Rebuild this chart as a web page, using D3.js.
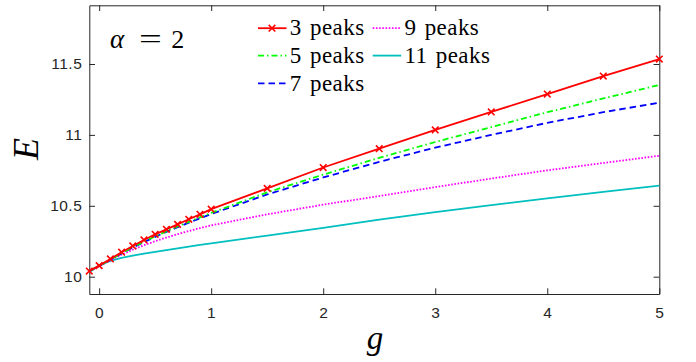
<!DOCTYPE html>
<html>
<head>
<meta charset="utf-8">
<script src="https://cdn.jsdelivr.net/npm/d3@7/dist/d3.min.js"></script>
<style>
  html, body { margin: 0; padding: 0; background: #fff; }
  svg { display: block; }
</style>
</head>
<body>
<svg id="chart" width="696" height="362"></svg>
<script>
// ---- data ----
const g = [-0.088, 0, 0.1, 0.2, 0.3, 0.4, 0.5, 0.6, 0.7, 0.8, 0.9, 1.0,
           1.5, 2.0, 2.5, 3.0, 3.5, 4.0, 4.5, 5.0];
const peaks3  = [10.040, 10.078, 10.125, 10.173, 10.217, 10.259, 10.299, 10.334, 10.369, 10.405, 10.440, 10.476,
                 10.623, 10.770, 10.903, 11.035, 11.162, 11.288, 11.415, 11.535];
const peaks5  = [10.040, 10.076, 10.120, 10.165, 10.207, 10.247, 10.285, 10.320, 10.354, 10.387, 10.418, 10.450,
                 10.595, 10.720, 10.838, 10.950, 11.055, 11.160, 11.257, 11.352];
const peaks7  = [10.040, 10.076, 10.120, 10.164, 10.205, 10.244, 10.281, 10.316, 10.349, 10.381, 10.412, 10.442,
                 10.580, 10.700, 10.810, 10.910, 11.000, 11.085, 11.160, 11.227];
const peaks9  = [10.036, 10.075, 10.115, 10.155, 10.190, 10.222, 10.250, 10.276, 10.300, 10.322, 10.343, 10.362,
                 10.440, 10.508, 10.569, 10.632, 10.692, 10.750, 10.802, 10.853];
const peaks11 = [10.032, 10.080, 10.112, 10.132, 10.148, 10.162, 10.175, 10.188, 10.200, 10.212, 10.224, 10.235,
                 10.290, 10.345, 10.403, 10.456, 10.505, 10.553, 10.598, 10.642];
const seriesNames = ["3 peaks", "5 peaks", "7 peaks", "9 peaks", "11 peaks"];
const xTicks = [0, 1, 2, 3, 4, 5];
const yTicks = [10, 10.5, 11, 11.5];
const yTickLabels = ["10", "10.5", "11", "11.5"];

// ---- layout ----
const svg = d3.select("#chart");
const L = 89.3, R = 659.3, T = 5.3, B = 294;
const x = d3.scaleLinear().domain([-0.088, 5]).range([L, R]);
const y = d3.scaleLinear().domain([9.878, 11.914]).range([B, T]);

const axisColor = "#262626";
const SERIF = "Liberation Serif";

function styleAxis(sel) {
  sel.attr("font-family", "Liberation Sans").attr("font-size", 15.5);
  sel.selectAll("path.domain").attr("stroke", axisColor).attr("stroke-width", 1);
  sel.selectAll(".tick line").attr("stroke", axisColor).attr("stroke-width", 1);
  sel.selectAll(".tick text").attr("fill", axisColor).attr("letter-spacing", 0.5);
}

svg.append("g").attr("transform", `translate(0,${B})`)
  .call(d3.axisBottom(x).tickValues(xTicks).tickFormat(d3.format("d"))
        .tickSizeInner(-5.7).tickSizeOuter(0).tickPadding(12.5))
  .call(styleAxis);
svg.append("g").attr("transform", `translate(0,${T})`)
  .call(d3.axisTop(x).tickValues(xTicks).tickFormat("")
        .tickSizeInner(-5.7).tickSizeOuter(0))
  .call(styleAxis);
svg.append("g").attr("transform", `translate(${L},0)`)
  .call(d3.axisLeft(y).tickValues(yTicks).tickFormat((d, i) => yTickLabels[i])
        .tickSizeInner(-5.7).tickSizeOuter(0).tickPadding(7))
  .call(styleAxis);
svg.append("g").attr("transform", `translate(${R},0)`)
  .call(d3.axisRight(y).tickValues(yTicks).tickFormat("")
        .tickSizeInner(-5.7).tickSizeOuter(0))
  .call(styleAxis);

// ---- lines ----
const series = [
  { name: seriesNames[0], vals: peaks3,  color: "#ff0000", dash: null,        width: 1.8, marker: true },
  { name: seriesNames[1], vals: peaks5,  color: "#00ff00", dash: "6,3,1.5,3", width: 1.8 },
  { name: seriesNames[2], vals: peaks7,  color: "#0000ff", dash: "6.5,4",     width: 1.8 },
  { name: seriesNames[3], vals: peaks9,  color: "#ff00ff", dash: "1.6,1.6",   width: 1.8 },
  { name: seriesNames[4], vals: peaks11, color: "#00bfbf", dash: null,        width: 1.8 }
];
const line = d3.line().x(d => x(d[0])).y(d => y(d[1]));
const plot = svg.append("g");
series.slice().reverse().forEach(s => {
  plot.append("path")
    .datum(g.map((gv, i) => [gv, s.vals[i]]))
    .attr("d", line)
    .attr("fill", "none")
    .attr("stroke", s.color)
    .attr("stroke-width", s.width)
    .attr("stroke-dasharray", s.dash);
});
const mk = 3.3;
function xMarker(sel, cx, cy, color) {
  sel.append("path")
    .attr("d", `M${cx-mk},${cy-mk}L${cx+mk},${cy+mk}M${cx-mk},${cy+mk}L${cx+mk},${cy-mk}`)
    .attr("stroke", color).attr("stroke-width", 1.6).attr("fill", "none");
}
g.forEach((gv, i) => xMarker(plot, x(gv), y(peaks3[i]), "#ff0000"));

// ---- legend ----
const legend = svg.append("g");
const legPos = [
  { lx: 258, ly: 28.2 }, { lx: 258, ly: 55.6 }, { lx: 258, ly: 83.4 },
  { lx: 372.7, ly: 28.2 }, { lx: 372.7, ly: 55.6 }
];
series.forEach((s, i) => {
  const p = legPos[i];
  legend.append("line")
    .attr("x1", p.lx).attr("x2", p.lx + 28.5).attr("y1", p.ly).attr("y2", p.ly)
    .attr("stroke", s.color).attr("stroke-width", s.width)
    .attr("stroke-dasharray", s.dash);
  if (s.marker) xMarker(legend, p.lx + 14, p.ly, s.color);
  legend.append("text")
    .attr("x", p.lx + 31.8).attr("y", p.ly + 7.2)
    .attr("font-family", SERIF).attr("font-size", 23)
    .attr("letter-spacing", 0.45).attr("word-spacing", 2)
    .attr("fill", "#000").text(s.name);
});

// ---- annotations / labels ----
svg.append("text").attr("x", 110).attr("y", 48.3)
  .attr("font-family", SERIF).attr("font-style", "italic").attr("font-size", 27)
  .attr("fill", "#000").text("α");
svg.append("text").attr("transform", "translate(139,48.3) scale(1.5,1)")
  .attr("font-family", SERIF).attr("font-size", 27)
  .attr("fill", "#000").text("=");
svg.append("text").attr("x", 171.3).attr("y", 48.3)
  .attr("font-family", SERIF).attr("font-size", 26)
  .attr("fill", "#000").text("2");

svg.append("text")
  .attr("transform", `translate(38,149) rotate(-90)`)
  .attr("text-anchor", "middle")
  .attr("font-family", SERIF).attr("font-style", "italic").attr("font-size", 36)
  .attr("fill", "#000").text("E");
svg.append("text")
  .attr("x", 375).attr("y", 349)
  .attr("text-anchor", "middle")
  .attr("font-family", SERIF).attr("font-style", "italic").attr("font-size", 33)
  .attr("fill", "#000").text("g");
</script>
</body>
</html>
